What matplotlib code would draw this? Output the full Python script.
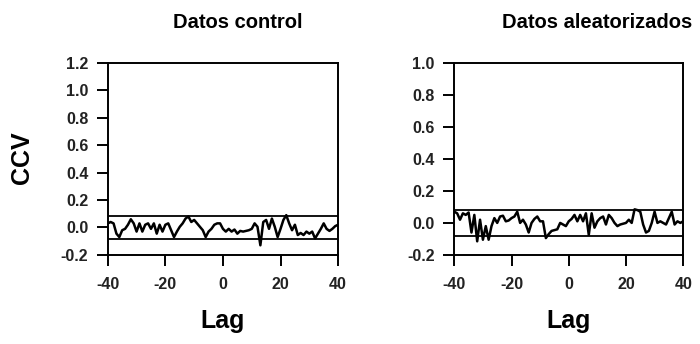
import numpy as np
import matplotlib
matplotlib.use("Agg")
import matplotlib.pyplot as plt
from matplotlib.ticker import FormatStrFormatter

plt.rcParams["font.family"] = ["Liberation Sans", "DejaVu Sans"]
plt.rcParams["font.weight"] = "bold"
plt.rcParams["axes.unicode_minus"] = False

# cross-correlation values for lags -40..40
lags = np.arange(-40, 41)
ccv_control = [
    0.03, 0.04, 0.03, -0.045, -0.07, -0.02, -0.01, 0.02, 0.06, 0.03,
    -0.03, 0.03, -0.03, 0.02, 0.03, -0.01, 0.03, -0.045, 0.02, -0.03,
    0.02, 0.03, -0.02, -0.07, -0.03, 0.005, 0.03, 0.065, 0.08, 0.04,
    0.055, 0.03, 0.005, -0.02, -0.07, -0.03, -0.01, 0.02, 0.03, 0.03,
    -0.01, -0.03, -0.01, -0.03, -0.015, -0.045, -0.025, -0.03, -0.025, -0.02,
    -0.01, 0.03, 0.005, -0.13, 0.04, 0.055, -0.01, 0.065, 0.005, -0.07,
    -0.01, 0.055, 0.09, 0.03, -0.02, 0.02, -0.055, -0.04, -0.055, -0.03,
    -0.045, -0.03, -0.08, -0.045, -0.01, 0.03, -0.01, -0.025, -0.01, 0.01,
    0.02,
]
ccv_random = [
    0.07, 0.06, 0.02, 0.06, 0.05, 0.065, -0.06, 0.05, -0.115, 0.02,
    -0.105, -0.02, -0.105, -0.02, 0.03, 0.0, 0.04, 0.045, 0.01, 0.015,
    0.03, 0.04, 0.07, 0.0, 0.02, -0.01, -0.06, 0.0, 0.025, 0.04,
    0.01, 0.01, -0.095, -0.07, -0.05, -0.045, -0.04, 0.0, -0.01, -0.02,
    0.01, 0.025, 0.05, 0.01, 0.05, 0.01, 0.06, -0.075, 0.06, -0.03,
    0.01, 0.03, 0.04, -0.01, 0.05, 0.03, 0.0, -0.02, -0.01, -0.005,
    0.0, 0.02, 0.0, 0.085, 0.08, 0.07, -0.01, -0.06, -0.05, 0.0,
    0.07, 0.0, 0.01, 0.0, -0.01, 0.03, 0.07, -0.01, 0.01, 0.0,
    0.01,
]
conf_bound = 0.082

titles = ["Datos control", "Datos aleatorizados"]
series = [ccv_control, ccv_random]
ylims = [(-0.2, 1.2), (-0.2, 1.0)]

fig = plt.figure(figsize=(7.0, 3.44), dpi=100)
positions = [[0.154, 0.259, 0.329, 0.558], [0.649, 0.259, 0.327, 0.558]]
title_x = [238 / 700, 597 / 700]

for pos, tx, title, vals, ylim in zip(positions, title_x, titles, series, ylims):
    ax = fig.add_axes(pos)
    ax.plot(lags, vals, color="black", lw=1.8)
    ax.axhline(conf_bound, color="black", lw=1.3)
    ax.axhline(-conf_bound, color="black", lw=1.3)
    ax.set_xlim(-40, 40)
    ax.set_ylim(*ylim)
    ax.set_xticks([-40, -20, 0, 20, 40])
    ax.set_yticks(np.round(np.arange(ylim[0], ylim[1] + 0.01, 0.2), 1))
    ax.yaxis.set_major_formatter(FormatStrFormatter("%.1f"))
    for s in ax.spines.values():
        s.set_linewidth(1.4)
    ax.tick_params(direction="out", length=8, width=1.4, labelsize=11.5,
                   labelcolor="#222222")
    ax.tick_params(axis="x", pad=8)
    ax.tick_params(axis="y", pad=6)
    for lab in ax.get_xticklabels() + ax.get_yticklabels():
        lab.set_fontweight("bold")
    # x label placed in figure coords
    fig.text(pos[0] + pos[2] / 2, 1 - 321 / 344, "Lag", ha="center",
             va="center", fontsize=18, fontweight="bold")
    fig.text(tx, 1 - 22 / 344, title, ha="center", va="center",
             fontsize=14.5, fontweight="bold")

fig.text(0.032, 1 - 158 / 344, "CCV", rotation=90, ha="center", va="center",
         fontsize=18, fontweight="bold")

fig.savefig("out.png", dpi=100)
